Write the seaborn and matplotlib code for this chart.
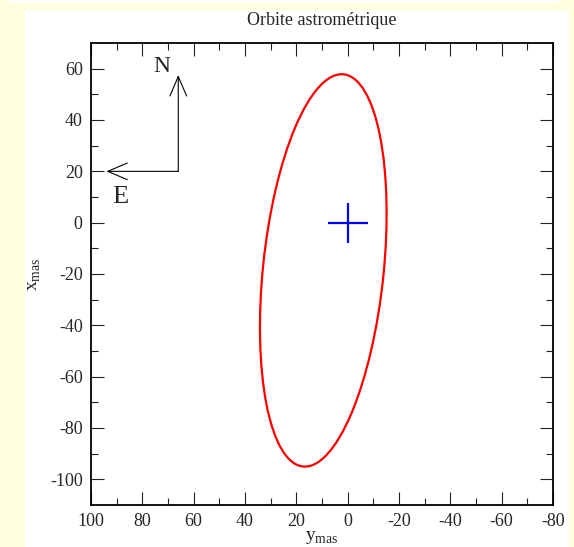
import matplotlib
matplotlib.use("Agg")
import matplotlib.pyplot as plt
from matplotlib.patches import Ellipse, Rectangle, FancyArrowPatch
import seaborn as sns

# orbit ellipse (in mas)
orbit_center = (9.5, -18.6)
orbit_major = 153.6
orbit_minor = 47.0
orbit_angle = 95.9

# star position
star_y = [0.0]
star_x = [0.0]

# compass
compass_corner = (66.0, 20.0)
north_tip = (66.0, 57.5)
east_tip = (94.0, 20.0)
north_label_pos = (72.5, 61.0)
east_label_pos = (88.5, 10.0)

x_ticks = [100, 80, 60, 40, 20, 0, -20, -40, -60, -80]
y_ticks = [60, 40, 20, 0, -20, -40, -60, -80, -100]

sns.set_style("ticks")
plt.rcParams['font.family'] = ['Liberation Serif', 'DejaVu Serif']
plt.rcParams['mathtext.fontset'] = 'custom'
plt.rcParams['mathtext.rm'] = 'Liberation Serif'

fig = plt.figure(figsize=(5.74, 5.47), dpi=100, facecolor='#FFFFE0')
fig.patches.append(Rectangle((25 / 574, 0), 544 / 574, 537 / 547,
                             transform=fig.transFigure, facecolor='white',
                             edgecolor='none', zorder=-10))
fig.patches.append(Rectangle((9 / 574, 544 / 547), 550 / 574, 3 / 547,
                             transform=fig.transFigure, facecolor='white',
                             edgecolor='none', zorder=-10))

ax = fig.add_axes([91 / 574, 1 - 505 / 547, 462 / 574, 462 / 547])
ax.set_facecolor('white')

ax.add_patch(Ellipse(orbit_center, orbit_major, orbit_minor, angle=orbit_angle,
                     fill=False, edgecolor='red', linewidth=1.6))
sns.scatterplot(x=star_y, y=star_x, marker='+', s=870, color='blue',
                linewidth=1.6, ax=ax, zorder=3)

for tip in (north_tip, east_tip):
    ax.add_patch(FancyArrowPatch(compass_corner, tip,
                                 arrowstyle='->,head_length=14,head_width=6',
                                 mutation_scale=1, color='black',
                                 linewidth=0.8, shrinkA=0, shrinkB=0))
ax.text(*north_label_pos, 'N', fontsize=17, ha='center', va='center')
ax.text(*east_label_pos, 'E', fontsize=19, ha='center', va='center')

ax.set_xlim(100, -80)
ax.set_ylim(-110, 70)
ax.set_xticks(x_ticks)
ax.set_yticks(y_ticks)
ax.set_xticklabels([str(v) for v in x_ticks])
ax.set_yticklabels([str(v) for v in y_ticks])
ax.set_xticks(list(range(90, -80, -20)), minor=True)
ax.set_yticks(list(range(50, -110, -20)), minor=True)
ax.tick_params(which='both', direction='in', top=True, right=True,
               color='#222222', width=0.8, labelsize=13)
ax.tick_params(which='major', length=9.5, pad=6)
ax.tick_params(which='minor', length=4.8)
for s in ax.spines.values():
    s.set_linewidth(1.3)
    s.set_color('black')

ax.set_xlabel(r'$\mathrm{y}_{\mathrm{mas}}$', fontsize=14, labelpad=-1)
ax.set_ylabel(r'$\mathrm{x}_{\mathrm{mas}}$', fontsize=14, labelpad=5)
ax.set_title('Orbite astrométrique', fontsize=13, pad=13)

fig.savefig('out.png', dpi=100, facecolor=fig.get_facecolor())
